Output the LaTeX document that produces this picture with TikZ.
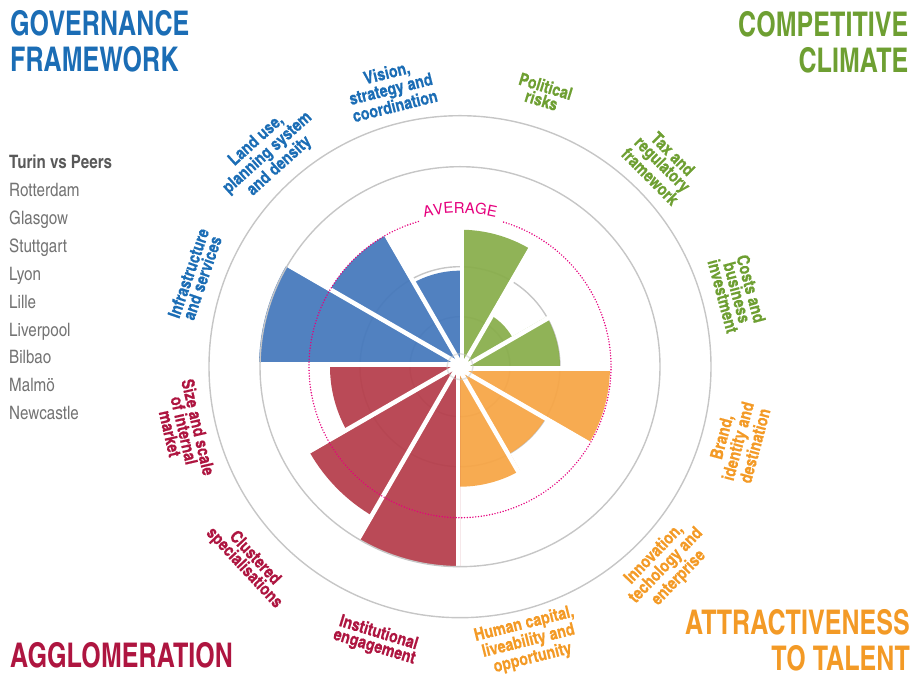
\documentclass[tikz,border=0pt]{standalone}
\usepackage{fontspec}
\usetikzlibrary{positioning, decorations.text}

\newfontfamily\headfont[Extension=.otf, UprightFont=*-bold, FakeStretch=0.9]{texgyreheroscn}
\newfontfamily\condfont[Extension=.otf, UprightFont=*-regular, BoldFont=*-bold]{texgyreheroscn}
\newfontfamily\axisfont[Extension=.otf, UprightFont=*-bold, FakeBold=0.5]{texgyreheroscn}
\newfontfamily\avgfont[Extension=.otf, UprightFont=*-regular]{texgyreheros}

\definecolor{govblue}{HTML}{1B6DB5}
\definecolor{compgreen}{HTML}{6E9F32}
\definecolor{talorange}{HTML}{F39A26}
\definecolor{aggred}{HTML}{AE1540}
\definecolor{wblue}{HTML}{4679BC}
\definecolor{wgreen}{HTML}{89AE4C}
\definecolor{worange}{HTML}{F7A646}
\definecolor{wred}{HTML}{B63F4C}
\definecolor{avgpink}{HTML}{E5007D}
\definecolor{gridgrey}{HTML}{C6C6C6}

\begin{document}
\begin{tikzpicture}[x=1pt, y=1pt,
  title/.style={font=\headfont\fontsize{34}{36}\selectfont, inner sep=0},
  axis label/.style={font=\axisfont\fontsize{17.5}{14.5}\selectfont, align=center, inner sep=0},
  legend head/.style={font=\condfont\bfseries\fontsize{18.5}{22}\selectfont, text=black!65, anchor=west, inner sep=0, text height=13.5pt, text depth=4pt},
  legend item/.style={font=\condfont\fontsize{18.5}{22}\selectfont, text=black!55, anchor=west, inner sep=0, text height=13.5pt, text depth=4pt},
  grid ring/.style={draw=gridgrey, line width=1.4pt},
  gap/.style={white, line width=4.5pt},
  average/.style={avgpink, line width=1.6pt, line cap=round, dash pattern=on 0pt off 2.8pt}]
  \useasboundingbox (0,0) rectangle (914,674);

  % pillars
  \node[title, text=govblue, align=left, anchor=north west] (gov) at (10,664) {GOVERNANCE\\FRAMEWORK};
  \node[title, text=compgreen, align=right, anchor=north east] (comp) at (908.5,662.5) {COMPETITIVE\\CLIMATE};
  \node[title, text=aggred, anchor=base west] (agg) at (10,6) {AGGLOMERATION};
  \node[title, text=talorange, align=right, anchor=south east] (talent) at (910,3) {ATTRACTIVENESS\\TO TALENT};

  % legend
  \node[legend head] (peer0) at (9,510.3) {Turin vs Peers};
  \foreach \city [count=\i, remember=\i as \j (initially 0)] in {Rotterdam, Glasgow, Stuttgart, Lyon, Lille, Liverpool, Bilbao, Malmö, Newcastle}
    \node[legend item, below=27.93pt of peer\j.west, anchor=west] (peer\i) {\city};

  \begin{scope}[shift={(460,307.3)}]
    \coordinate (c) at (0,0);
    \foreach \r in {50,100} \draw[grid ring] (c) circle (\r);
    \foreach \a/\r/\col in {60/137/wgreen, 30/60/wgreen, 0/100/wgreen, -30/150/worange, -60/100/worange, -90/120/worange,
        -120/200/wred, -150/173/wred, 180/130/wred, 150/201/wblue, 120/151/wblue, 90/96/wblue}
      \fill[\col, fill opacity=.94] (c) -- (\a:\r) arc[start angle=\a, end angle=\a+30, radius=\r] -- cycle;
    \foreach \t in {0,30,...,330} \draw[gap] (\t-90:2) -- ++(\t:206);
    \fill[white] (c) circle (8);
    \draw[grid ring, draw opacity=.5] (c) circle (13);
    \foreach \r in {200,251} \draw[grid ring] (c) circle (\r);

    % average ring
    \draw[average] (106:151) arc[start angle=106, end angle=434, radius=151];
    \path[decorate, decoration={text along path, text align=center,
        text={|\avgfont\fontsize{15}{15}\selectfont\color{avgpink}|AVERAGE}}]
      (106:153.5) arc[start angle=106, end angle=74, radius=153.5];

    % indicators
    \node[axis label, text=govblue, rotate=14] (vision) at (104:286) {Vision,\\strategy and\\coordination};
    \node[axis label, text=compgreen, rotate=-17] (political) at (73:286) {Political\\risks};
    \node[axis label, text=compgreen, rotate=-45] (tax) at (45:285) {Tax and\\regulatory\\framework};
    \node[axis label, text=compgreen, rotate=-75] (costs) at (15:287) {Costs and\\business\\investment};
    \node[axis label, text=talorange, rotate=75] (brand) at (-15:288) {Brand,\\identity and\\destination};
    \node[axis label, text=talorange, rotate=46] (innovation) at (-44:287) {Innovation,\\techology and\\enterprise};
    \node[axis label, text=talorange, rotate=14] (human) at (-76:283) {Human capital,\\liveability and\\opportunity};
    \node[axis label, text=aggred, rotate=-17] (institutional) at (-107:286) {Institutional\\engagement};
    \node[axis label, text=aggred, rotate=-47] (clustered) at (-137:288) {Clustered\\specialisations};
    \node[axis label, text=aggred, rotate=-77] (size) at (-167:283) {Size and scale\\of internal\\market};
    \node[axis label, text=govblue, rotate=71] (infra) at (161:280) {Infrastructure\\and services};
    \node[axis label, text=govblue, rotate=42] (landuse) at (132:287) {Land use,\\planning system\\and density};
  \end{scope}
\end{tikzpicture}
\end{document}
